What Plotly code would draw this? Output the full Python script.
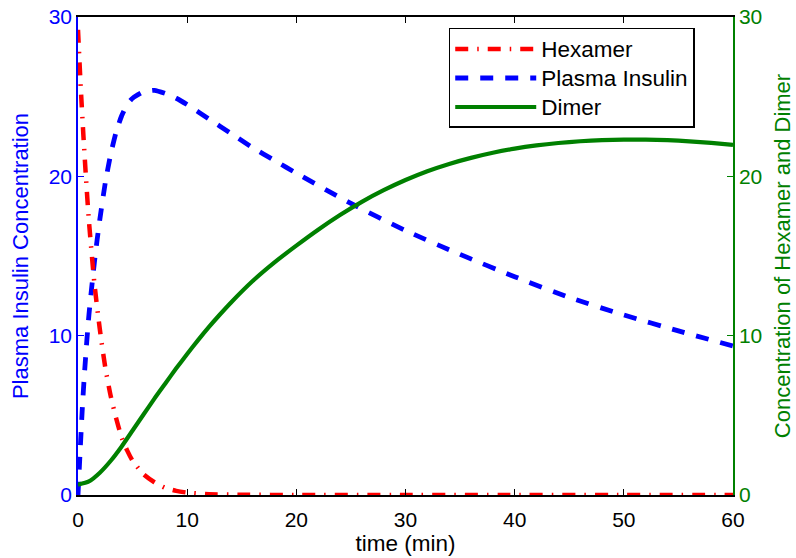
import plotly.graph_objects as go

# Hexamer concentration (right axis)
time_hex = [0, 0.25, 0.5, 0.75, 1, 1.5, 2, 2.5, 3, 3.5, 4, 4.5, 5, 6, 7, 8, 9, 10,
            12, 15, 20, 30, 40, 50, 60]
hexamer = [29.2, 25.6, 22.5, 19.7, 17.2, 13.3, 10.4, 8.0, 6.2, 4.8, 3.6, 2.8, 2.15,
           1.3, 0.8, 0.45, 0.26, 0.15, 0.05, 0.02, 0.0, 0.0, 0.0, 0.0, 0.0]

# Plasma insulin concentration (left axis)
time_ins = [0, 0.2, 0.4, 0.6, 0.8, 1.0, 1.25, 1.5, 1.75, 2, 2.5, 3, 3.5, 4, 4.5, 5,
            6, 7, 8, 9, 10, 12, 14, 16, 18, 20, 25, 30, 35, 40, 45, 50, 55, 60]
plasma_insulin = [0.0, 2.8, 5.5, 7.7, 9.6, 11.3, 13.0, 14.6, 16.0, 17.3, 19.6, 21.4,
                  22.8, 23.8, 24.5, 24.9, 25.3, 25.4, 25.2, 24.9, 24.5, 23.6, 22.7,
                  21.8, 21.0, 20.2, 18.3, 16.6, 15.1, 13.7, 12.4, 11.3, 10.3, 9.35]

# Dimer concentration (right axis)
time_dim = [0, 1, 2, 3, 4, 5, 6, 7, 8, 9, 10, 11, 12, 13, 14, 16, 18, 20, 22, 24,
            26, 28, 30, 32, 34, 36, 38, 40, 42, 44, 46, 48, 50, 52, 54, 56, 58, 60]
dimer = [0.65, 0.85, 1.4, 2.15, 3.05, 4.05, 5.05, 6.05, 7.0, 7.95, 8.85, 9.72, 10.55,
         11.33, 12.07, 13.43, 14.6, 15.65, 16.65, 17.57, 18.4, 19.13, 19.77, 20.32,
         20.78, 21.16, 21.48, 21.74, 21.94, 22.09, 22.2, 22.27, 22.3, 22.3, 22.27,
         22.2, 22.1, 21.97]

x_ticks = [0, 10, 20, 30, 40, 50, 60]
y_ticks = [0, 10, 20, 30]

RED = "#FF0000"
BLUE = "#0000FF"
GREEN = "#008000"
FONT = "Liberation Sans, Arial, sans-serif"


def legend_label(text):
    # legend rows are spaced for a 20px font, labels drawn a little larger
    return f'<span style="font-size:22.5px">{text}</span>'


fig = go.Figure()

fig.add_trace(go.Scatter(
    x=time_hex, y=hexamer, name=legend_label("Hexamer"), yaxis="y2", mode="lines",
    line=dict(color=RED, width=4.5, dash="13px,9px,1.5px,9px", shape="spline", smoothing=0.6),
))
fig.add_trace(go.Scatter(
    x=time_ins, y=plasma_insulin, name=legend_label("Plasma Insulin"), yaxis="y", mode="lines",
    line=dict(color=BLUE, width=4.8, dash="13px,12px", shape="spline", smoothing=0.6),
))
fig.add_trace(go.Scatter(
    x=time_dim, y=dimer, name=legend_label("Dimer"), yaxis="y2", mode="lines",
    line=dict(color=GREEN, width=4.2, shape="spline", smoothing=0.6),
))

fig.update_layout(
    width=796, height=558,
    margin=dict(l=78, r=63, t=17, b=63, autoexpand=False),
    paper_bgcolor="white", plot_bgcolor="white",
    font=dict(family=FONT, size=21, color="black"),
    xaxis=dict(
        range=[0, 60], tickvals=x_ticks, ticks="inside", ticklen=6, tickcolor="black",
        showline=True, linecolor="black", linewidth=1.5, mirror="ticks",
        showgrid=False, zeroline=False, ticklabelstandoff=5, automargin=False,
        tickfont=dict(size=21, color="black"),
        title=dict(text="time (min)", font=dict(size=22.5, color="black"), standoff=4),
    ),
    yaxis=dict(
        range=[0, 30], tickvals=y_ticks, ticks="inside", ticklen=6, tickcolor=BLUE,
        showline=True, linecolor=BLUE, linewidth=1.5, automargin=False,
        showgrid=False, zeroline=False,
        tickfont=dict(size=21, color=BLUE),
        title=dict(text="Plasma Insulin Concentration", font=dict(size=22, color=BLUE), standoff=14),
    ),
    yaxis2=dict(
        range=[0, 30], tickvals=y_ticks, ticks="inside", ticklen=6, tickcolor=GREEN,
        overlaying="y", side="right", automargin=False,
        showline=True, linecolor=GREEN, linewidth=1.5,
        showgrid=False, zeroline=False,
        tickfont=dict(size=21, color=GREEN),
        title=dict(text="Concentration of Hexamer and Dimer", font=dict(size=22, color=GREEN), standoff=13),
    ),
    legend=dict(
        x=0.566, y=0.977, xanchor="left", yanchor="top",
        bgcolor="white", bordercolor="black", borderwidth=1.5,
        font=dict(size=20, color="black"), itemwidth=81,
    ),
    showlegend=True,
)

fig.write_html("out.html")
